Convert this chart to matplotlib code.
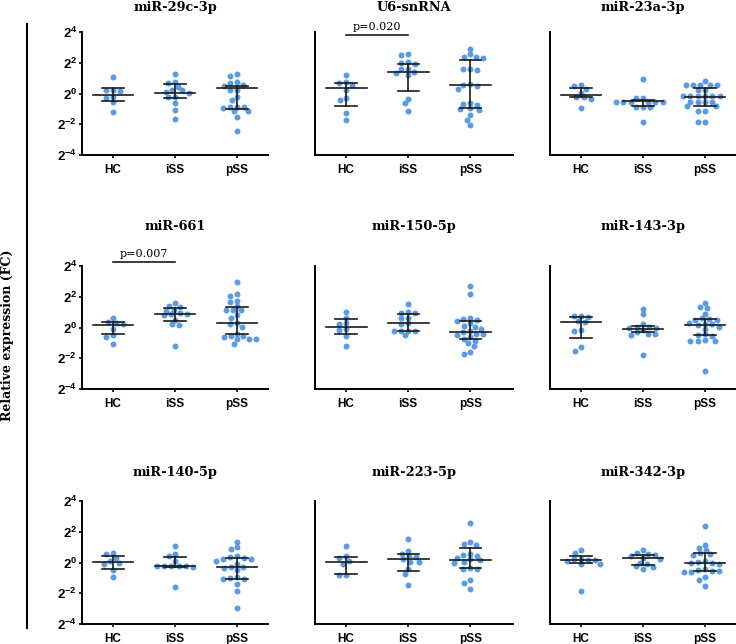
import numpy as np
import matplotlib
matplotlib.use("Agg")
import matplotlib.pyplot as plt

plt.rcParams["mathtext.fontset"] = "custom"
plt.rcParams["mathtext.bf"] = "Liberation Sans:bold"
plt.rcParams["mathtext.rm"] = "Liberation Sans:bold"
plt.rcParams["mathtext.default"] = "bf"

titles = ["miR-29c-3p", "U6-snRNA", "miR-23a-3p",
          "miR-661", "miR-150-5p", "miR-143-3p",
          "miR-140-5p", "miR-223-5p", "miR-342-3p"]
groups = ["HC", "iSS", "pSS"]
pvals = {1: "p=0.020", 3: "p=0.007"}

# log2 fold change
hc_vals = [
    [1.05, 0.25, 0.2, 0.15, -0.2, -0.3, -0.55, -1.2],
    [1.2, 0.75, 0.7, 0.55, 0.2, -0.3, -0.45, -1.25, -1.7],
    [0.55, 0.5, 0.3, 0.05, -0.2, -0.25, -0.35, -0.95],
    [0.6, 0.35, 0.3, 0.2, -0.1, -0.5, -0.6, -1.05],
    [1.0, 0.65, 0.3, 0.2, -0.1, -0.15, -0.55, -1.2],
    [0.75, 0.72, 0.7, 0.45, 0.35, -0.15, -0.2, -1.3, -1.5],
    [0.6, 0.55, 0.3, 0.1, 0.0, -0.1, -0.5, -0.95],
    [1.05, 0.4, 0.3, 0.1, -0.1, -0.8, -0.8],
    [0.8, 0.6, 0.25, 0.2, 0.15, 0.15, 0.1, -0.1, -0.1, -1.85],
]
iss_vals = [
    [1.25, 0.75, 0.7, 0.45, 0.25, 0.2, 0.1, 0.05, -0.2, -0.25, -0.65, -1.1, -1.65],
    [2.6, 2.5, 2.05, 2.0, 1.95, 1.6, 1.6, 1.4, 1.35, 1.2, -0.35, -0.65, -1.15],
    [0.92, -0.3, -0.3, -0.53, -0.53, -0.53, -0.53, -0.53, -0.53, -0.86, -0.86, -0.86, -1.85],
    [1.6, 1.4, 1.35, 1.15, 1.1, 0.95, 0.9, 0.85, 0.8, 0.5, 0.2, 0.15, -1.2],
    [1.5, 1.0, 0.95, 0.95, 0.65, 0.6, 0.3, 0.25, -0.2, -0.2, -0.25, -0.25, -0.5],
    [1.2, 0.85, 0.2, 0.05, 0.05, 0.0, -0.05, -0.15, -0.3, -0.4, -0.45, -0.5, -1.8],
    [1.08, 0.58, 0.4, 0.08, -0.2, -0.2, -0.2, -0.2, -0.2, -0.3, -1.6],
    [1.55, 0.75, 0.55, 0.4, 0.35, 0.2, 0.05, 0.05, -0.45, -0.75, -1.45],
    [0.8, 0.65, 0.55, 0.5, 0.45, 0.3, 0.25, 0.0, -0.1, -0.25, -0.3, -0.45],
]
pss_vals = [
    [1.26, 1.17, 0.76, 0.69, 0.56, 0.48, 0.25, 0.2, -0.2, -0.45, -0.85, -0.89, -0.9,
     -0.95, -1.15, -1.17, -1.5, -2.43],
    [2.9, 2.55, 2.4, 2.35, 2.3, 1.6, 1.6, 1.55, 0.6, 0.55, 0.5, 0.3, -0.6, -0.7,
     -0.75, -0.95, -1.0, -1.05, -1.4, -1.7, -2.05],
    [0.8, 0.55, 0.55, 0.55, 0.55, 0.55, 0.22, 0.22, -0.16, -0.16, -0.16, -0.16,
     -0.16, -0.16, -0.53, -0.53, -0.53, -0.53, -0.81, -0.81, -1.14, -1.14, -1.87, -1.87],
    [2.95, 2.17, 2.05, 1.73, 1.65, 1.4, 1.12, 1.12, 1.12, 0.8, 0.6, 0.3, 0.25, 0.05,
     -0.4, -0.58, -0.58, -0.6, -0.77, -0.77, -0.77, -1.06],
    [2.7, 2.2, 0.65, 0.55, 0.5, 0.4, 0.3, 0.1, 0.05, -0.1, -0.2, -0.3, -0.4, -0.45,
     -0.5, -0.6, -0.75, -0.85, -1.0, -1.2, -1.6, -1.75],
    [1.6, 1.35, 1.25, 0.9, 0.6, 0.55, 0.5, 0.5, 0.3, 0.25, 0.2, 0.15, 0.05, -0.1,
     -0.45, -0.5, -0.55, -0.8, -0.85, -0.85, -0.85, -2.85],
    [1.35, 1.0, 0.85, 0.4, 0.35, 0.3, 0.25, 0.2, 0.1, -0.1, -0.3, -0.3, -0.35, -0.5,
     -0.95, -1.0, -1.05, -1.1, -1.4, -1.85, -2.95],
    [2.6, 1.35, 1.2, 1.15, 0.55, 0.5, 0.45, 0.3, 0.2, 0.15, 0.05, 0.0, -0.35, -0.4,
     -0.4, -1.15, -1.35, -1.7],
    [2.35, 1.15, 0.95, 0.8, 0.6, 0.55, 0.5, 0.1, 0.05, 0.0, -0.05, -0.1, -0.45, -0.5,
     -0.55, -0.55, -0.6, -0.6, -0.95, -1.15, -1.55],
]
# median and interquartile range drawn in each panel (HC, iSS, pSS)
medians = [[-0.07, 0.04, 0.33], [0.36, 1.38, 0.53], [-0.08, -0.51, -0.25],
           [0.14, 0.9, 0.29], [0.01, 0.27, -0.29], [0.36, -0.12, 0.18],
           [0.03, -0.21, -0.29], [0.05, 0.21, 0.16], [0.16, 0.29, -0.05]]
q1 = [[-0.5, -0.28, -0.98], [-0.79, 0.18, -0.94], [-0.2, -0.84, -0.84],
      [-0.45, 0.4, -0.45], [-0.44, -0.23, -0.75], [-0.66, -0.29, -0.5],
      [-0.42, -0.3, -1.06], [-0.77, -0.53, -0.38], [-0.05, -0.16, -0.57]]
q3 = [[0.39, 0.6, 0.46], [0.68, 1.94, 2.16], [0.38, -0.4, 0.36],
      [0.34, 1.25, 1.34], [0.57, 0.9, 0.42], [0.7, 0.08, 0.57],
      [0.42, 0.36, 0.32], [0.38, 0.57, 0.92], [0.42, 0.49, 0.6]]

W, H = 736, 644
fig = plt.figure(figsize=(W / 100, H / 100), dpi=100)

row_top = [32, 266, 501]
ax_h = 123
cols = [(82, 186, 2.5), (315, 198, 2.69), (550, 186, 2.5)]
dot = "#5b9be6"


def swarm(vals, ppx, ppy, dh=7.3, dv=5.0):
    # points closer than dv vertically are pushed sideways (elliptic spacing)
    vals = np.asarray(vals)
    xs = np.zeros(len(vals))
    placed = []
    for i in np.argsort(-vals):
        y = vals[i] * ppy
        cands = [0.0]
        for xp, yp in placed:
            dy = abs(y - yp)
            if dy < dv:
                dx = dh * np.sqrt(1 - (dy / dv) ** 2)
                cands += [xp + dx, xp - dx]
        cands.sort(key=lambda c: (abs(c), c))
        for c in cands:
            if all(((c - xp) / dh) ** 2 + ((y - yp) / dv) ** 2 >= 1 - 1e-6
                   for xp, yp in placed):
                xs[i] = c
                break
        placed.append((xs[i], y))
    return xs / ppx


for k in range(9):
    r, c = divmod(k, 3)
    left, width, xmax = cols[c]
    top = row_top[r]
    ax = fig.add_axes([left / W, 1 - (top + ax_h) / H, width / W, ax_h / H])
    ax.set_xlim(-0.5, xmax)
    ax.set_ylim(-4, 4)
    ppx = width / (xmax + 0.5)
    ppy = ax_h / 8.0

    for g, vals in enumerate([hc_vals[k], iss_vals[k], pss_vals[k]]):
        off = swarm(vals, ppx, ppy)
        ax.plot(g + off, vals, "o", color=dot, ms=4.3, mew=0, zorder=2)
        ax.plot([g - 0.33, g + 0.33], [medians[k][g]] * 2, color="#1a1a1a", lw=1.2, zorder=3)
        ax.plot([g, g], [q1[k][g], q3[k][g]], color="#1a1a1a", lw=1.2, zorder=3)
        for q in (q1[k][g], q3[k][g]):
            ax.plot([g - 0.17, g + 0.17], [q, q], color="#1a1a1a", lw=1.2, zorder=3)

    for s in ["top", "right"]:
        ax.spines[s].set_visible(False)
    for s in ["left", "bottom"]:
        ax.spines[s].set_linewidth(1.4)
    ax.set_xticks([0, 1, 2])
    ax.set_xticklabels(groups, fontsize=8.5, fontweight="bold", family="Liberation Sans")
    ax.tick_params(axis="x", length=2.5, width=1.2, pad=4)
    if c == 0:
        ax.set_yticks([-4, -2, 0, 2, 4])
        ax.set_yticklabels([r"$2^{%d}$" % v for v in [-4, -2, 0, 2, 4]], fontsize=9.5)
        ax.tick_params(axis="y", length=2.5, width=1.2, pad=1)
    else:
        ax.set_yticks([])

    fig.text((left + width / 2) / W, 1 - [11, 230, 476][r] / H, titles[k],
             ha="center", va="baseline", fontsize=9.3, fontweight="bold",
             family="DejaVu Serif")
    if k in pvals:
        ly = 4 + (top - [35, 262, 0][r]) / ppy
        ax.plot([0, 1], [ly, ly], color="#1a1a1a", lw=1.2, clip_on=False)
        ax.text(0.5, ly + 3 / ppy, pvals[k], ha="center", va="bottom",
                fontsize=8, family="DejaVu Serif")

fig.add_artist(plt.Line2D([27 / W, 27 / W], [1 - 24 / H, 1 - 628 / H],
                          color="black", lw=1.5))
fig.text(8 / W, 1 - 335 / H, "Relative expression (FC)", rotation=90,
         ha="center", va="center", fontsize=9, fontweight="bold",
         family="DejaVu Serif")

fig.savefig("out.png", dpi=100)
